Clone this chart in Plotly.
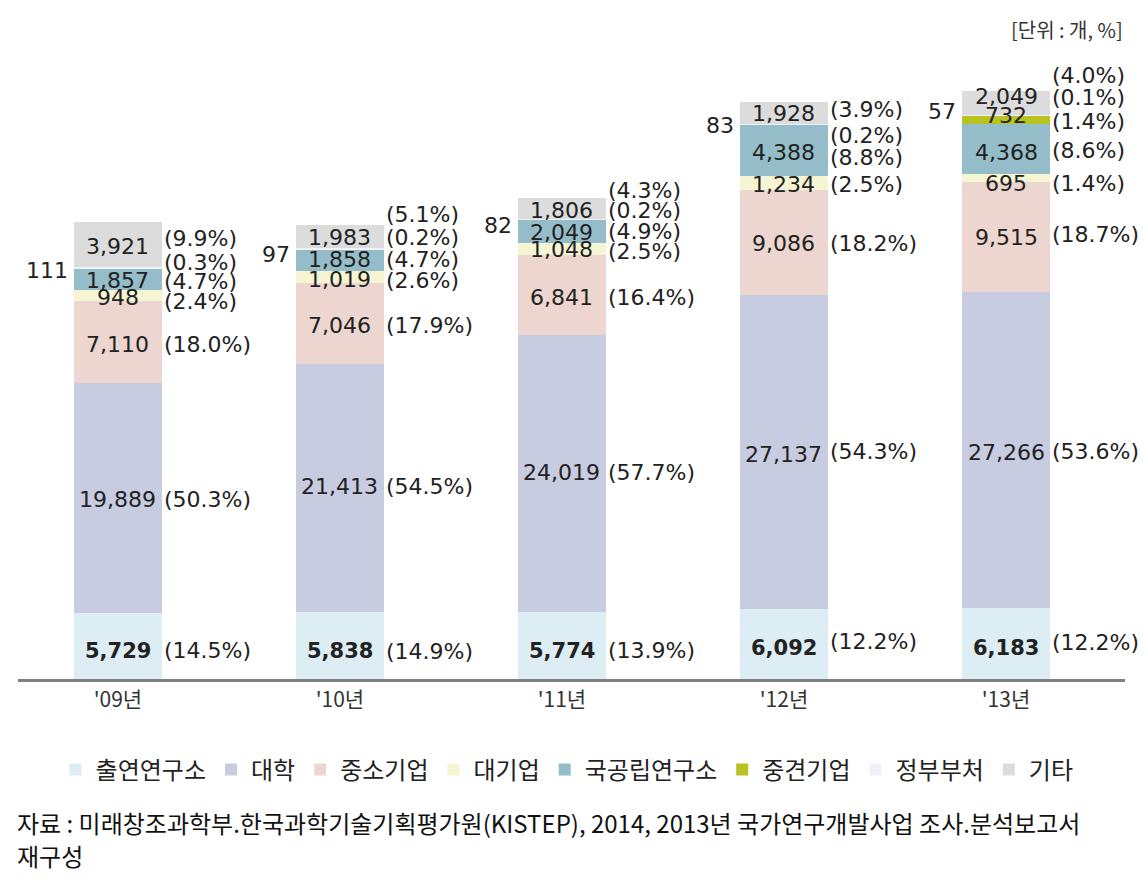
import plotly.graph_objects as go

years = ["'09년", "'10년", "'11년", "'12년", "'13년"]
series_names = ["출연연구소", "대학", "중소기업", "대기업", "국공립연구소", "중견기업", "정부부처", "기타"]

v_research_inst = [5729, 5838, 5774, 6092, 6183]
v_university = [19889, 21413, 24019, 27137, 27266]
v_sme = [7110, 7046, 6841, 9086, 9515]
v_large = [948, 1019, 1048, 1234, 695]
v_national = [1857, 1858, 2049, 4388, 4368]
v_midsize = [0, 0, 0, 0, 732]
v_government = [111, 97, 82, 83, 57]
v_other = [3921, 1983, 1806, 1928, 2049]

p_research_inst = [14.5, 14.9, 13.9, 12.2, 12.2]
p_university = [50.3, 54.5, 57.7, 54.3, 53.6]
p_sme = [18.0, 17.9, 16.4, 18.2, 18.7]
p_large = [2.4, 2.6, 2.5, 2.5, 1.4]
p_national = [4.7, 4.7, 4.9, 8.8, 8.6]
p_midsize = [None, None, None, None, 1.4]
p_government = [0.3, 0.2, 0.2, 0.2, 0.1]
p_other = [9.9, 5.1, 4.3, 3.9, 4.0]

values = [v_research_inst, v_university, v_sme, v_large, v_national, v_midsize, v_government, v_other]
percents = [p_research_inst, p_university, p_sme, p_large, p_national, p_midsize, p_government, p_other]

# ---- styling ----
colors = ["#ddedf4", "#c8cce0", "#ecd6cf", "#f6f5d3", "#95bcc9", "#b8c322", "#eff1f6", "#dcdcdc"]
NUM_FONT = "DejaVu Sans"
KR_FONT = "Noto Sans CJK KR"
TXT = "#222222"
BAR_W = 0.396

# label nudges in pixels (positive = up), per series x year
val_shift = [
    [-5, -6, -5, -4, -5],
    [-2, 1, 1, -3, -3],
    [-3, -2, -2, -1, 0],
    [-2, -3, 0, -2, -5],
    [-2, 0, -1, -2, -3],
    [0, 0, 0, 0, 4],
    [-3, -6, -6, -1, 3],
    [-2, -1, -2, -1, 6],
]
pct_shift = [
    [-5, -6, -5, 2, 1],
    [-2, 1, 1, 0, -2],
    [-3, -2, -2, -1, 3],
    [-6, -4, -2, -2, -5],
    [-3, 0, 0, -7, -1],
    [0, 0, 0, 0, -2],
    [5, 11, 9, -11, 17],
    [6, 22, 18, 3, 27],
]

xs = list(range(len(years)))
fig = go.Figure()
for s, name in enumerate(series_names):
    fig.add_trace(go.Bar(
        x=xs, y=values[s], name=name, width=BAR_W,
        marker=dict(color=colors[s], line=dict(width=0)),
        hoverinfo="skip",
    ))

annotations = []
for i in xs:
    base = 0
    for s in range(len(series_names)):
        v = values[s][i]
        if not v:
            continue
        mid = base + v / 2
        base += v
        label = f"{v:,}"
        if s == 6:  # 정부부처 label sits to the left of the bar
            annotations.append(dict(
                x=i - BAR_W / 2, y=mid, xref="x", yref="y", text=label, showarrow=False,
                xanchor="right", yanchor="middle", xshift=-4, yshift=val_shift[s][i],
                font=dict(family=NUM_FONT, size=22, color=TXT)))
        else:
            annotations.append(dict(
                x=i, y=mid, xref="x", yref="y", text=label, showarrow=False,
                xanchor="center", yanchor="middle", yshift=val_shift[s][i],
                font=dict(family=NUM_FONT, size=22 if s else 21, color=TXT,
                          weight="bold" if s == 0 else "normal")))
        p = percents[s][i]
        if p is not None:
            annotations.append(dict(
                x=i + BAR_W / 2, y=mid, xref="x", yref="y", text=f"({p:.1f}%)", showarrow=False,
                xanchor="left", yanchor="middle", xshift=0, yshift=pct_shift[s][i],
                font=dict(family=NUM_FONT, size=22, color=TXT)))

annotations.append(dict(
    x=1, y=1.0485, xref="paper", yref="paper", text="[단위 : 개, %]", showarrow=False,
    xanchor="right", yanchor="middle", font=dict(family=KR_FONT, size=20, color="#333333")))
annotations.append(dict(
    x=-0.003, y=-0.232, xref="paper", yref="paper",
    text="자료 : 미래창조과학부.한국과학기술기획평가원(KISTEP), 2014, 2013년 국가연구개발사업 조사.분석보고서",
    showarrow=False, xanchor="left", yanchor="middle",
    font=dict(family=KR_FONT, size=24, color="#111111")))
annotations.append(dict(
    x=-0.003, y=-0.285, xref="paper", yref="paper", text="재구성",
    showarrow=False, xanchor="left", yanchor="middle",
    font=dict(family=KR_FONT, size=24, color="#111111")))

# the page body adds an 8px offset, so the figure is 8px smaller and margins shifted
fig.update_layout(
    width=1139, height=878,
    margin=dict(l=10, r=22, t=52, b=207),
    paper_bgcolor="white", plot_bgcolor="white",
    barmode="stack",
    showlegend=True,
    legend=dict(orientation="h", x=0.496, xanchor="center", y=-0.147, yanchor="middle",
                font=dict(family=KR_FONT, size=24, color=TXT), traceorder="normal",
                itemclick=False, itemdoubleclick=False),
    xaxis=dict(range=[-0.45, 4.536], tickvals=xs, ticktext=years, showgrid=False, zeroline=False,
               showline=True, linecolor="#808080", linewidth=3, ticks="",
               tickfont=dict(family=KR_FONT, size=21, color="#333333")),
    yaxis=dict(range=[0, 53544], visible=False, showgrid=False, zeroline=False),
    annotations=annotations,
)

fig.write_html("out.html")
